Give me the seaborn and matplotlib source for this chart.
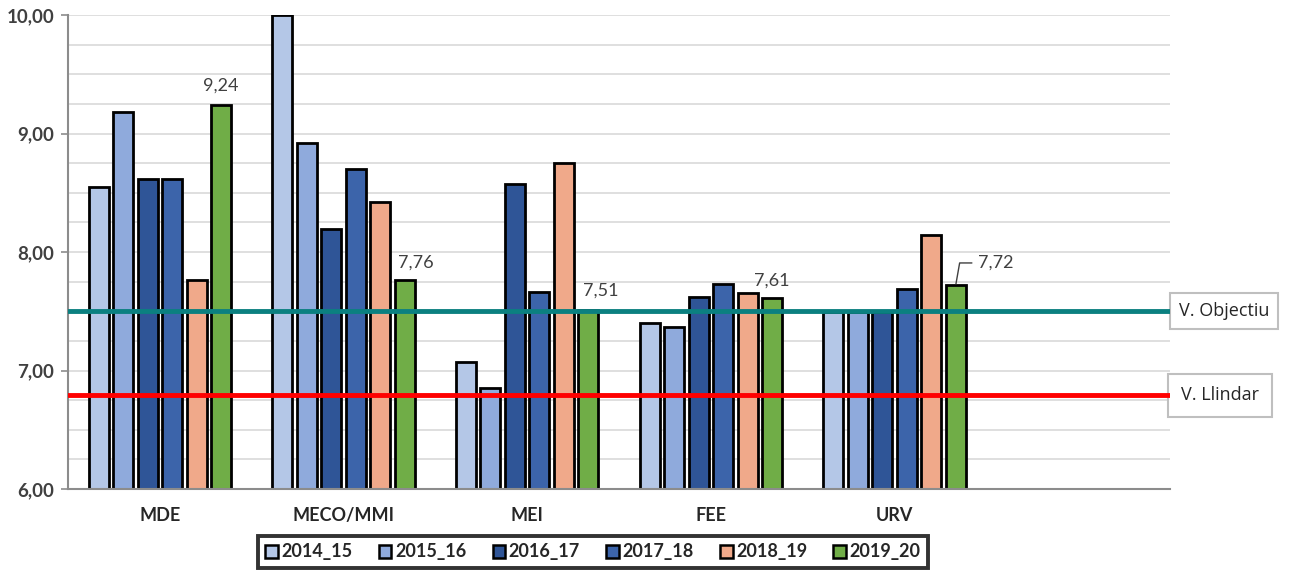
import pandas as pd
import matplotlib.pyplot as plt
import matplotlib.ticker as mticker
import seaborn as sns

# Data
CATEGORIES = ['MDE', 'MECO/MMI', 'MEI', 'FEE', 'URV']
YEARS = ['2014_15', '2015_16', '2016_17', '2017_18', '2018_19', '2019_20']
V_2014_15 = [8.55, 10.00, 7.07, 7.40, 7.49]
V_2015_16 = [9.18, 8.92, 6.85, 7.37, 7.49]
V_2016_17 = [8.62, 8.19, 8.57, 7.62, 7.49]
V_2017_18 = [8.62, 8.70, 7.66, 7.73, 7.69]
V_2018_19 = [7.76, 8.42, 8.75, 7.65, 8.14]
V_2019_20 = [9.24, 7.76, 7.51, 7.61, 7.72]
OBJECTIU = 7.50
LLINDAR = 6.79

COLORS = ['#B4C7E7', '#8FAADC', '#2F5597', '#3C64AA', '#F0A98A', '#70AD47']
# label offsets (points) for the 2019_20 data labels
LABEL_OFFSETS = [(0, 14), (8, 13), (9, 14), (0, 13), (16, 16)]


def build_frame():
    series = [V_2014_15, V_2015_16, V_2016_17, V_2017_18, V_2018_19, V_2019_20]
    rows = []
    for year, vals in zip(YEARS, series):
        for cat, v in zip(CATEGORIES, vals):
            rows.append({'Categoria': cat, 'Curs': year, 'Valor': v})
    return pd.DataFrame(rows)


def comma(v, pos=None):
    return f"{v:.2f}".replace('.', ',')


if __name__ == "__main__":
    sns.set_style("white")
    plt.rcParams['font.family'] = ['Lato', 'DejaVu Sans']

    df = build_frame()

    fig = plt.figure(figsize=(13, 5.72), dpi=100)
    ax = fig.add_axes([68 / 1300, 1 - 489 / 572, 1102 / 1300, 474 / 572])

    sns.barplot(data=df, x='Categoria', y='Valor', hue='Curs', order=CATEGORIES,
                hue_order=YEARS, palette=COLORS, width=0.8, gap=0.18,
                edgecolor='black', linewidth=2, saturation=1, ax=ax, zorder=2)

    ax.set_xlim(-0.5, 5.5)
    ax.set_ylim(6, 10)
    ax.yaxis.set_major_locator(mticker.MultipleLocator(1))
    ax.yaxis.set_minor_locator(mticker.MultipleLocator(0.25))
    ax.yaxis.set_major_formatter(mticker.FuncFormatter(comma))
    ax.grid(True, axis='y', which='both', color='#D9D9D9', lw=1.2, zorder=0)
    ax.set_axisbelow(True)

    for s in ['top', 'right']:
        ax.spines[s].set_visible(False)
    for s in ['left', 'bottom']:
        ax.spines[s].set_color('#8C8C8C')
        ax.spines[s].set_linewidth(1.5)

    ax.tick_params(axis='y', which='major', left=True, length=5, width=1.2,
                   color='#8C8C8C', labelsize=13.5, labelcolor='#404040', pad=5)
    ax.tick_params(axis='y', which='minor', left=False, length=0)
    ax.tick_params(axis='x', length=0, pad=13, labelsize=13)
    for lab in ax.get_yticklabels():
        lab.set_fontweight('bold')
    for lab in ax.get_xticklabels():
        lab.set_fontweight('bold')
    ax.set_xlabel('')
    ax.set_ylabel('')

    # reference lines
    ax.axhline(OBJECTIU, color='#0B8080', lw=3.5, zorder=4)
    ax.axhline(LLINDAR, color='#FF0000', lw=3.5, zorder=4)
    ax.text(1.008, OBJECTIU, 'V. Objectiu', transform=ax.get_yaxis_transform(),
            ha='left', va='center', fontsize=13, color='#262626',
            bbox=dict(boxstyle='square,pad=0.5', fc='white', ec='#BFBFBF', lw=1.5),
            clip_on=False, family=['Open Sans', 'DejaVu Sans'])
    ax.text(1.01, LLINDAR, 'V. Llindar', transform=ax.get_yaxis_transform(),
            ha='left', va='center', fontsize=13, color='#262626',
            bbox=dict(boxstyle='square,pad=0.7', fc='white', ec='#BFBFBF', lw=1.5),
            clip_on=False, family=['Open Sans', 'DejaVu Sans'])

    # data labels on last series
    last = ax.containers[-1]
    for i, (bar, v) in enumerate(zip(last, V_2019_20)):
        x = bar.get_x() + bar.get_width() / 2
        dx, dy = LABEL_OFFSETS[i]
        if i == len(V_2019_20) - 1:
            ax.annotate(comma(v), xy=(x, v), xytext=(dx, dy), textcoords='offset points',
                        ha='left', va='center', fontsize=13, color='#404040',
                        arrowprops=dict(arrowstyle='-', color='#404040', lw=1,
                                        connectionstyle='angle,angleA=0,angleB=80,rad=0',
                                        shrinkA=2, shrinkB=1))
        else:
            ax.annotate(comma(v), xy=(x, v), xytext=(dx, dy), textcoords='offset points',
                        ha='center', va='center', fontsize=13, color='#404040')

    # legend
    handles, labels = ax.get_legend_handles_labels()
    for h in handles:
        h.set_edgecolor('black')
        h.set_linewidth(1.8)
    ax.legend(handles, labels, loc='center', bbox_to_anchor=(593 / 1300, 1 - 552 / 572),
              bbox_transform=fig.transFigure, ncol=6, frameon=True, fancybox=False,
              edgecolor='black', handlelength=0.7, handleheight=0.7, handletextpad=0.2,
              columnspacing=1.45, prop={'weight': 'bold', 'size': 13},
              borderpad=0.4, borderaxespad=0)
    ax.get_legend().get_frame().set_linewidth(2.8)

    fig.savefig('out.png', dpi=100)
